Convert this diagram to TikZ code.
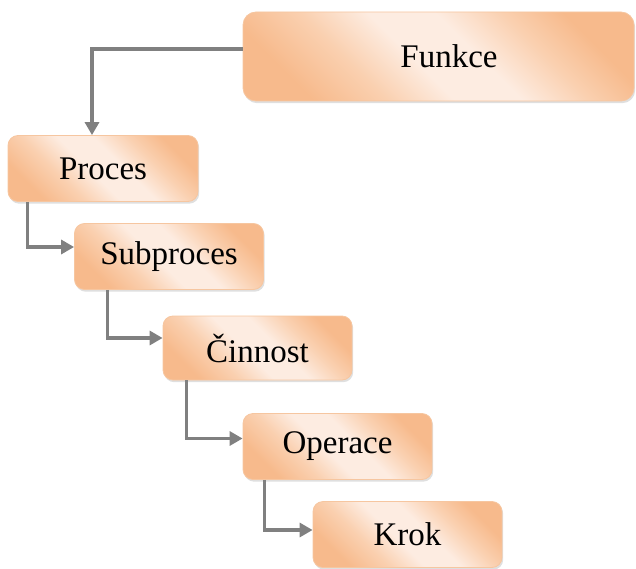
\documentclass[tikz,border=0pt]{standalone}
\usepackage{fontspec}
\setmainfont{Liberation Serif}
\usetikzlibrary{arrows.meta,shadows}
\definecolor{boxdark}{RGB}{247,186,140}
\definecolor{boxmid}{RGB}{250,208,176}
\definecolor{boxlight}{RGB}{253,236,225}
\definecolor{boxedge}{RGB}{246,198,160}
\definecolor{linkgray}{RGB}{128,128,128}
% peach fill: orange at the far corners, pale across the middle
\pgfdeclareverticalshading{peachfill}{100bp}{color(0bp)=(boxdark); color(25bp)=(boxdark);
  color(36bp)=(boxmid); color(46bp)=(boxlight); color(56bp)=(boxlight);
  color(66bp)=(boxmid); color(75bp)=(boxdark); color(100bp)=(boxdark)}
\tikzset{
  stage/.style={rounded corners=10pt, draw=boxedge, line width=0.8pt,
    shade, shading=peachfill, shading angle=-45,
    drop shadow={opacity=0.25, shadow xshift=1.2pt, shadow yshift=-2.2pt},
    minimum width=189pt, minimum height=66pt, inner sep=0pt,
    font=\fontsize{33}{40}\selectfont, text=black},
  link/.style={draw=linkgray, line width=3.2pt,
    -{Triangle[length=13pt,width=14pt]}}
}
\begin{document}
\begin{tikzpicture}[x=1pt,y=-1pt]
  \useasboundingbox (0,0) rectangle (636,569);

  % hierarchy levels
  \node[stage, minimum width=391pt, minimum height=89pt, rounded corners=13pt]
    (funkce) at (438.5,56.5) {\hspace*{21pt}Funkce};
  \node[stage, minimum width=190pt] (proces)    at (103,168.5)   {Proces};
  \node[stage] (subproces) at (169,256.5)   {Subproces};
  \node[stage, minimum height=64pt] (cinnost) at (257.5,348) {Činnost};
  \node[stage] (operace)   at (337.5,446.5) {Operace};
  \node[stage] (krok)      at (407.5,534.5) {Krok};

  % elbow connectors between levels
  \draw[link] ([yshift=7.5pt]funkce.west) -| ([xshift=-11pt]proces.north);
  \draw[link] ([xshift=20pt]proces.south west) |- ([yshift=9.5pt]subproces.west);
  \draw[link] ([xshift=33pt]subproces.south west) |- ([yshift=10pt]cinnost.west);
  \draw[link] ([xshift=24pt]cinnost.south west) |- ([yshift=8pt]operace.west);
  \draw[link] ([xshift=22pt]operace.south west) |- ([yshift=4.5pt]krok.west);
\end{tikzpicture}
\end{document}
